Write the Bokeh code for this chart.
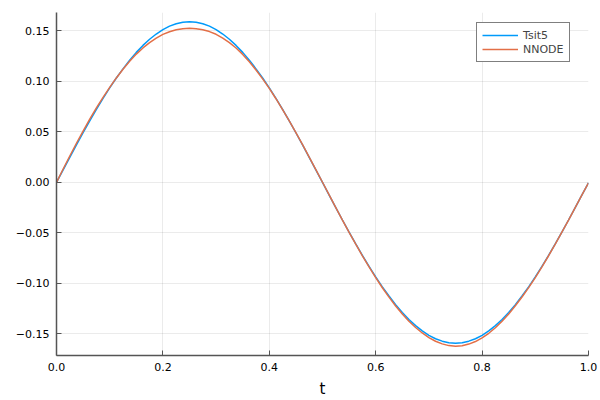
from bokeh.plotting import figure
from bokeh.models import Range1d, FixedTicker, Legend, LegendItem
from bokeh.embed import file_html
from bokeh.resources import INLINE

# time grid and the two solutions (step 0.0125)
t = [i / 80 for i in range(81)]

tsit5 = [0.0000, 0.0125, 0.0249, 0.0372, 0.0492, 0.0609, 0.0723, 0.0832, 0.0936, 0.1034,
         0.1125, 0.1210, 0.1288, 0.1357, 0.1418, 0.1470, 0.1514, 0.1548, 0.1572, 0.1587,
         0.1592, 0.1587, 0.1572, 0.1548, 0.1514, 0.1470, 0.1418, 0.1357, 0.1288, 0.1210,
         0.1125, 0.1034, 0.0936, 0.0832, 0.0723, 0.0609, 0.0492, 0.0372, 0.0249, 0.0125,
         0.0000, -0.0125, -0.0249, -0.0372, -0.0492, -0.0609, -0.0723, -0.0832, -0.0936, -0.1034,
         -0.1125, -0.1210, -0.1288, -0.1357, -0.1418, -0.1470, -0.1514, -0.1548, -0.1572, -0.1587,
         -0.1592, -0.1587, -0.1572, -0.1548, -0.1514, -0.1470, -0.1418, -0.1357, -0.1288, -0.1210,
         -0.1125, -0.1034, -0.0936, -0.0832, -0.0723, -0.0609, -0.0492, -0.0372, -0.0249, -0.0125,
         -0.0003]

nnode = [0.0000, 0.0133, 0.0262, 0.0388, 0.0509, 0.0626, 0.0738, 0.0843, 0.0942, 0.1035,
         0.1121, 0.1200, 0.1271, 0.1332, 0.1385, 0.1429, 0.1466, 0.1493, 0.1512, 0.1523,
         0.1527, 0.1523, 0.1512, 0.1494, 0.1467, 0.1430, 0.1385, 0.1331, 0.1268, 0.1195,
         0.1114, 0.1026, 0.0931, 0.0829, 0.0722, 0.0609, 0.0493, 0.0374, 0.0251, 0.0127,
         0.0002, -0.0124, -0.0249, -0.0373, -0.0494, -0.0612, -0.0727, -0.0837, -0.0943, -0.1043,
         -0.1136, -0.1223, -0.1303, -0.1374, -0.1437, -0.1491, -0.1537, -0.1573, -0.1599, -0.1616,
         -0.1622, -0.1617, -0.1601, -0.1576, -0.1540, -0.1494, -0.1439, -0.1375, -0.1303, -0.1222,
         -0.1135, -0.1042, -0.0942, -0.0836, -0.0726, -0.0611, -0.0493, -0.0373, -0.0249, -0.0125,
         -0.0003]

xticks = [0.0, 0.2, 0.4, 0.6, 0.8, 1.0]
xlabels = ["0.0", "0.2", "0.4", "0.6", "0.8", "1.0"]
yticks = [-0.15, -0.10, -0.05, 0.0, 0.05, 0.10, 0.15]
ylabels = ["\u22120.15", "\u22120.10", "\u22120.05", "0.00", "0.05", "0.10", "0.15"]

p = figure(width=600, height=400, output_backend="svg", toolbar_location=None,
           x_range=Range1d(0, 1), y_range=Range1d(-0.1714, 0.1683),
           min_border_left=56, min_border_right=12, min_border_top=12, min_border_bottom=45)
p.outline_line_color = None
p.background_fill_color = "white"
p.border_fill_color = "white"

l1 = p.line(t, tsit5, line_color="#009AFA", line_width=1.5)
l2 = p.line(t, nnode, line_color="#E36F47", line_width=1.5)

p.xaxis.ticker = FixedTicker(ticks=xticks)
p.xaxis.major_label_overrides = dict(zip(xticks, xlabels))
p.yaxis.ticker = FixedTicker(ticks=yticks)
p.yaxis.major_label_overrides = dict(zip(yticks, ylabels))

for ax in (p.xaxis, p.yaxis):
    ax.axis_line_color = "#555555"
    ax.axis_line_width = 1.5
    ax.major_tick_line_color = "#555555"
    ax.major_tick_in = 5
    ax.major_tick_out = 0
    ax.minor_tick_line_color = None
    ax.major_label_text_font = "DejaVu Sans"
    ax.major_label_text_font_size = "11px"
    ax.major_label_text_color = "black"
    ax.major_label_standoff = 7

p.xaxis.axis_label = "t"
p.xaxis.axis_label_text_font = "DejaVu Sans"
p.xaxis.axis_label_text_font_size = "15px"
p.xaxis.axis_label_text_font_style = "normal"
p.xaxis.axis_label_text_color = "black"
p.xaxis.axis_label_standoff = 6

p.grid.grid_line_color = "black"
p.grid.grid_line_alpha = 0.08
p.grid.grid_line_width = 1

legend = Legend(items=[LegendItem(label="Tsit5", renderers=[l1]),
                       LegendItem(label="NNODE", renderers=[l2])],
                location=(420, 293), padding=5, spacing=0, margin=0,
                glyph_width=36, glyph_height=14, label_height=14, label_standoff=5,
                label_text_font="DejaVu Sans", label_text_font_size="11px",
                border_line_color="black", border_line_width=1,
                background_fill_color="white", background_fill_alpha=1)
p.add_layout(legend)

open("out.html", "w").write(file_html(p, INLINE))
